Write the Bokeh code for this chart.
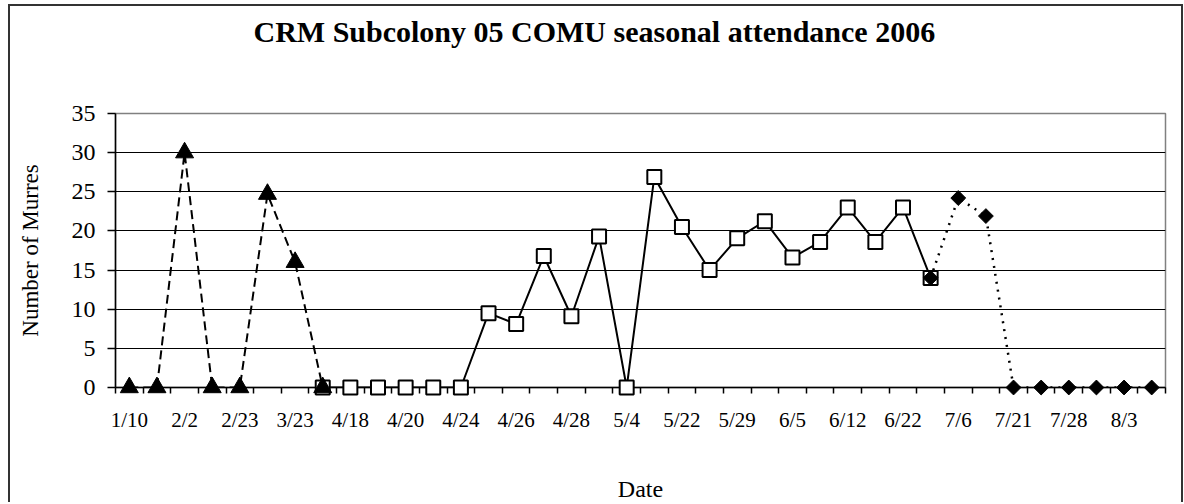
import numpy as np
from bokeh.plotting import figure
from bokeh.models import FixedTicker, Range1d, ColumnDataSource, Title
from bokeh.embed import file_html
from bokeh.resources import INLINE

# ---- data -------------------------------------------------------------
# 38 survey dates; only every second one is labelled on the axis
tick_labels = ["1/10", "2/2", "2/23", "3/23", "4/18", "4/20", "4/24", "4/26",
               "4/28", "5/4", "5/22", "5/29", "6/5", "6/12", "6/22", "7/6",
               "7/21", "7/28", "8/3"]
n_dates = 38

# series 1 (triangles, dashed): dates 0-7
early_start = 0
early_counts = [0, 0, 30, 0, 0, 24.7, 16, 0]

# series 2 (open squares, solid): dates 7-29
mid_start = 7
mid_counts = [0, 0, 0, 0, 0, 0, 9.5, 8.1, 16.8, 9.1, 19.3, 0, 26.9, 20.5,
              15, 19.05, 21.25, 16.6, 18.6, 23, 18.6, 23, 14]

# series 3 (diamonds, dotted): dates 29-37
late_start = 29
late_counts = [14, 24.2, 21.9, 0, 0, 0, 0, 0, 0]

y_ticks = [0, 5, 10, 15, 20, 25, 30, 35]
title_text = "CRM Subcolony 05 COMU seasonal attendance 2006"

# ---- figure -----------------------------------------------------------
SERIF = "Liberation Serif"

p = figure(width=1175, height=498, output_backend="svg", toolbar_location=None,
           x_range=Range1d(-0.5, n_dates - 0.5), y_range=Range1d(0, 35),
           min_border_left=105, min_border_right=20, min_border_top=107,
           min_border_bottom=116, title=None)
p.styles = {"border": "2px solid #333333", "border-bottom": "none",
            "margin-left": "8px", "margin-top": "4px"}

# blank spacer next to the frame, then the real title further out
p.add_layout(Title(text=" ", text_font_size="10px", standoff=48), "above")
p.add_layout(Title(text=title_text, align="left", offset=138, standoff=10,
                   text_font=SERIF, text_font_size="30px",
                   text_font_style="bold", text_color="black"), "above")

p.outline_line_color = "#808080"
p.outline_line_width = 1.5
p.background_fill_color = "white"
p.border_fill_color = "white"

# grid
p.xgrid.visible = False
p.ygrid.ticker = FixedTicker(ticks=[5, 10, 15, 20, 25, 30])
p.ygrid.grid_line_color = "black"
p.ygrid.grid_line_width = 1

# x axis
label_pos = list(range(0, n_dates, 2))
p.xaxis.ticker = FixedTicker(ticks=label_pos,
                             minor_ticks=[i - 0.5 for i in range(n_dates + 1)])
p.xaxis.major_label_overrides = {pos: lab for pos, lab in zip(label_pos, tick_labels)}
p.xaxis.major_tick_out = 0
p.xaxis.major_tick_in = 0
p.xaxis.minor_tick_out = 6
p.xaxis.minor_tick_in = 0
p.xaxis.minor_tick_line_color = "black"
p.xaxis.minor_tick_line_width = 1.5
p.xaxis.axis_line_color = "black"
p.xaxis.axis_line_width = 1.5
p.xaxis.major_label_text_font = SERIF
p.xaxis.major_label_text_font_size = "21px"
p.xaxis.major_label_text_color = "black"
p.xaxis.major_label_standoff = 14
p.xaxis.axis_label = "Date"
p.xaxis.axis_label_text_font = SERIF
p.xaxis.axis_label_text_font_size = "24px"
p.xaxis.axis_label_text_font_style = "normal"
p.xaxis.axis_label_text_color = "black"
p.xaxis.axis_label_standoff = 41

# y axis
p.yaxis.ticker = FixedTicker(ticks=y_ticks)
p.yaxis.major_tick_out = 8
p.yaxis.major_tick_in = 0
p.yaxis.major_tick_line_width = 1.5
p.yaxis.minor_tick_line_color = None
p.yaxis.axis_line_color = "black"
p.yaxis.axis_line_width = 1.5
p.yaxis.major_label_text_font = SERIF
p.yaxis.major_label_text_font_size = "24px"
p.yaxis.major_label_text_color = "black"
p.yaxis.major_label_standoff = 12
p.yaxis.axis_label = "Number of Murres"
p.yaxis.axis_label_text_font = SERIF
p.yaxis.axis_label_text_font_size = "23px"
p.yaxis.axis_label_text_font_style = "normal"
p.yaxis.axis_label_text_color = "black"
p.yaxis.axis_label_standoff = 26

# ---- series -----------------------------------------------------------
def src(start, counts):
    return ColumnDataSource(dict(x=list(range(start, start + len(counts))),
                                 y=counts))

s_early = src(early_start, early_counts)
s_mid = src(mid_start, mid_counts)
s_late = src(late_start, late_counts)

# squares (solid)
p.line("x", "y", source=s_mid, line_color="black", line_width=2)
p.scatter("x", "y", source=s_mid, marker="square", size=14,
          fill_color="white", line_color="black", line_width=2,
          level="overlay")

# triangles (dashed)
p.line("x", "y", source=s_early, line_color="black", line_width=2,
       line_dash="9 5")
p.scatter("x", "y", source=s_early, marker="triangle", size=18,
          fill_color="black", line_color="black", line_width=1,
          level="overlay")

# diamonds (dotted)
p.line("x", "y", source=s_late, line_color="black", line_width=2.5,
       line_dash="2 6")
p.scatter("x", "y", source=s_late, marker="square", angle=np.pi / 4, size=10.5,
          fill_color="black", line_color="black", line_width=1,
          level="overlay")

open("out.html", "w").write(file_html(p, INLINE))
